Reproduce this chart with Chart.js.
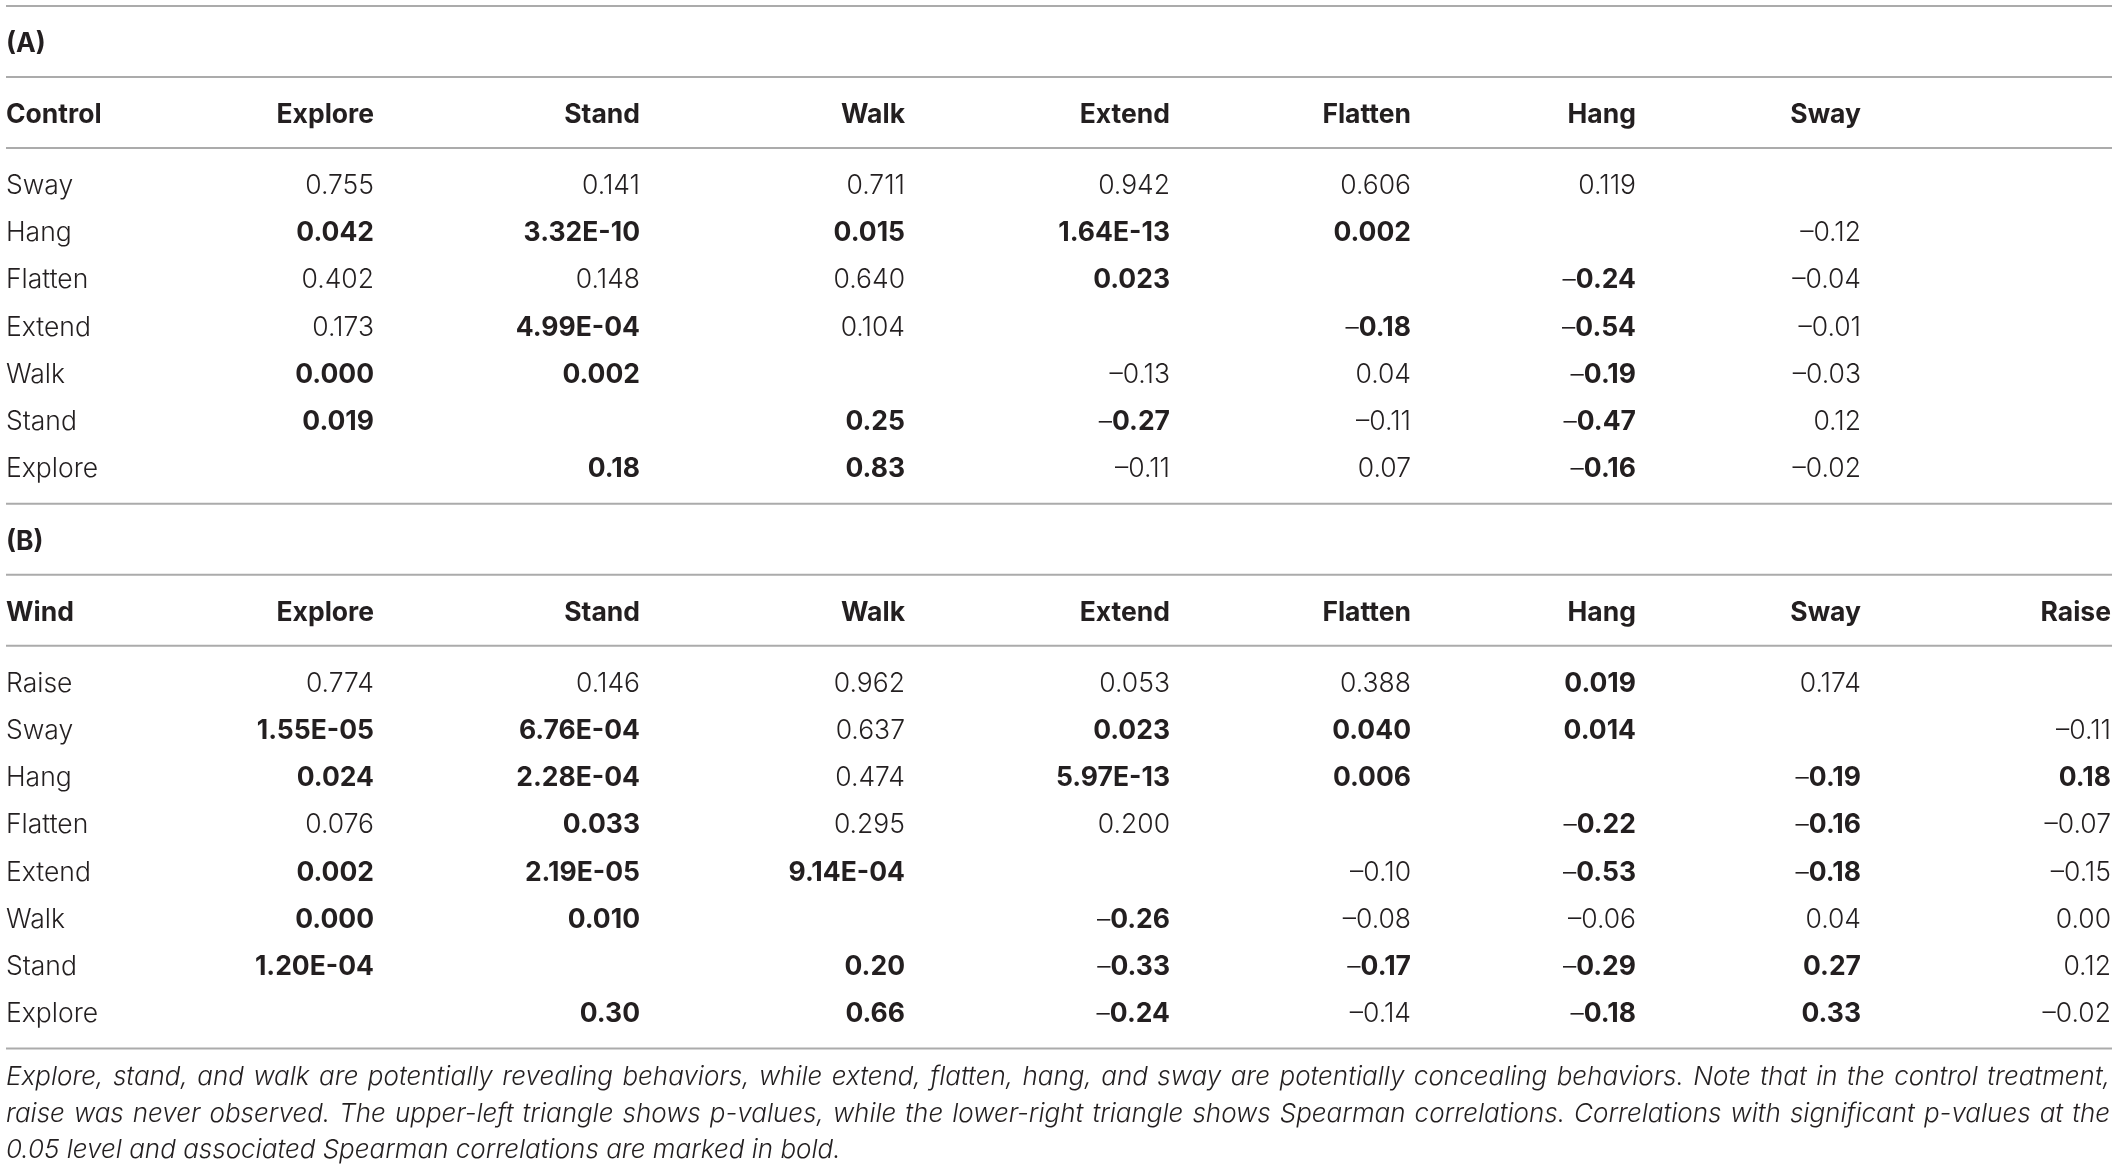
<!DOCTYPE html>
<html><head><meta charset="utf-8">
<script src="https://cdn.jsdelivr.net/npm/chart.js@4.4.1/dist/chart.umd.min.js"></script>
<style>html,body{margin:0;padding:0;background:#fff;overflow:hidden}canvas{display:block}</style>
</head><body><canvas id="c" width="2118" height="1171"></canvas>
<script>
// ---------------- DATA ----------------
const panelA = '(A)';
const cornerA = 'Control';
const columnsA = ['Explore','Stand','Walk','Extend','Flatten','Hang','Sway'];
const rowsA = ['Sway','Hang','Flatten','Extend','Walk','Stand','Explore'];
const valuesA = [
  ['0.755','0.141','0.711','0.942','0.606','0.119',''],
  ['0.042','3.32E-10','0.015','1.64E-13','0.002','','\u20130.12'],
  ['0.402','0.148','0.640','0.023','','\u20130.24','\u20130.04'],
  ['0.173','4.99E-04','0.104','','\u20130.18','\u20130.54','\u20130.01'],
  ['0.000','0.002','','\u20130.13','0.04','\u20130.19','\u20130.03'],
  ['0.019','','0.25','\u20130.27','\u20130.11','\u20130.47','0.12'],
  ['','0.18','0.83','\u20130.11','0.07','\u20130.16','\u20130.02']
];
const boldA = [
  [0,0,0,0,0,0,0],
  [1,1,1,1,1,0,0],
  [0,0,0,1,0,1,0],
  [0,1,0,0,1,1,0],
  [1,1,0,0,0,1,0],
  [1,0,1,1,0,1,0],
  [0,1,1,0,0,1,0]
];
const panelB = '(B)';
const cornerB = 'Wind';
const columnsB = ['Explore','Stand','Walk','Extend','Flatten','Hang','Sway','Raise'];
const rowsB = ['Raise','Sway','Hang','Flatten','Extend','Walk','Stand','Explore'];
const valuesB = [
  ['0.774','0.146','0.962','0.053','0.388','0.019','0.174',''],
  ['1.55E-05','6.76E-04','0.637','0.023','0.040','0.014','','\u20130.11'],
  ['0.024','2.28E-04','0.474','5.97E-13','0.006','','\u20130.19','0.18'],
  ['0.076','0.033','0.295','0.200','','\u20130.22','\u20130.16','\u20130.07'],
  ['0.002','2.19E-05','9.14E-04','','\u20130.10','\u20130.53','\u20130.18','\u20130.15'],
  ['0.000','0.010','','\u20130.26','\u20130.08','\u20130.06','0.04','0.00'],
  ['1.20E-04','','0.20','\u20130.33','\u20130.17','\u20130.29','0.27','0.12'],
  ['','0.30','0.66','\u20130.24','\u20130.14','\u20130.18','0.33','\u20130.02']
];
const boldB = [
  [0,0,0,0,0,1,0,0],
  [1,1,0,1,1,1,0,0],
  [1,1,0,1,1,0,1,1],
  [0,1,0,0,0,1,1,0],
  [1,1,1,0,0,1,1,0],
  [1,1,0,1,0,0,0,0],
  [1,0,1,1,1,1,1,0],
  [0,1,1,1,0,1,1,0]
];
const captionLines = [
  'Explore, stand, and walk are potentially revealing behaviors, while extend, flatten, hang, and sway are potentially concealing behaviors. Note that in the control treatment,',
  'raise was never observed. The upper-left triangle shows p-values, while the lower-right triangle shows Spearman correlations. Correlations with significant p-values at the',
  '0.05 level and associated Spearman correlations are marked in bold.'
];

// ---------------- LAYOUT / STYLE ----------------
const W = 2118, H = 1171;
const TABLE_LEFT = 6, TABLE_RIGHT = 2112, TEXT_RIGHT = 2110;
const colRight = [374, 640, 905, 1170, 1411, 1636, 1861, 2111];
const SECTION_TOP_A = 6;
const LABEL_OFF = 46, BAND = 71, ROW_PITCH = 47.2, ROW_TAIL = 26.5, CAP_PITCH = 36.5;
const FONT = 'Inter';
const SIZE = 26.5, CAP_SIZE = 26;
const INK = '#231f20', RULE = '#ababab';

function sectionLayout(top, nRows){
  const labelY = top + LABEL_OFF;
  const rule2 = top + BAND;
  const headY = rule2 + LABEL_OFF;
  const rule3 = rule2 + BAND;
  const firstRow = rule3 + LABEL_OFF;
  const rowY = [];
  for(let i=0;i<nRows;i++) rowY.push(firstRow + i*ROW_PITCH);
  const bottom = rowY[nRows-1] + ROW_TAIL;
  return {top, labelY, rule2, headY, rule3, rowY, bottom};
}
const LA = sectionLayout(SECTION_TOP_A, rowsA.length);
const LB = sectionLayout(LA.bottom, rowsB.length);

const cellPoints = [];
const rules = [];
function addSection(L, panel, corner, cols, rows, vals, bold){
  rules.push(L.top, L.rule2, L.rule3);
  cellPoints.push({x:TABLE_LEFT, y:L.labelY, text:panel, bold:true, align:'left'});
  cellPoints.push({x:TABLE_LEFT, y:L.headY, text:corner, bold:true, align:'left'});
  cols.forEach((c,j)=>cellPoints.push({x:colRight[j], y:L.headY, text:c, bold:true, align:'right'}));
  rows.forEach((r,i)=>{
    cellPoints.push({x:TABLE_LEFT, y:L.rowY[i], text:r, bold:false, align:'left'});
    vals[i].forEach((v,j)=>{
      if(v!=='') cellPoints.push({x:colRight[j], y:L.rowY[i], text:v, bold:!!bold[i][j], align:'right'});
    });
  });
}
addSection(LA, panelA, cornerA, columnsA, rowsA, valuesA, boldA);
addSection(LB, panelB, cornerB, columnsB, rowsB, valuesB, boldB);
rules.push(LB.bottom);

const capPoints = captionLines.map((t,i)=>({x:TABLE_LEFT, y:LB.bottom + CAP_PITCH*(i+1), text:t, justify: i < captionLines.length-1}));

const datasets = rules.map(y=>({
  type:'scatter', data:[{x:TABLE_LEFT,y},{x:TABLE_RIGHT,y}], showLine:true,
  borderColor:RULE, borderWidth:2, pointRadius:0, pointHoverRadius:0
}));
datasets.push({type:'scatter', data:cellPoints, pointRadius:0, pointHoverRadius:0, kind:'cells'});
datasets.push({type:'scatter', data:capPoints, pointRadius:0, pointHoverRadius:0, kind:'caption'});

const fLight = `300 ${SIZE}px ${FONT}`;
const fBold = `700 ${SIZE}px ${FONT}`;
const fCap = `italic 300 ${CAP_SIZE}px ${FONT}`;

function drawCell(ctx, x, y, d){
  ctx.fillStyle = INK;
  ctx.textBaseline = 'alphabetic';
  if(d.align==='left'){
    ctx.font = d.bold ? fBold : fLight;
    ctx.textAlign = 'left';
    ctx.fillText(d.text, x, y);
    return;
  }
  ctx.textAlign = 'right';
  if(d.bold && d.text.charAt(0)==='\u2013'){
    const num = d.text.slice(1);
    ctx.font = fBold;
    const w = ctx.measureText(num).width;
    ctx.fillText(num, x, y);
    ctx.font = fLight;
    ctx.fillText('\u2013', x - w, y);
  } else {
    ctx.font = d.bold ? fBold : fLight;
    ctx.fillText(d.text, x, y);
  }
}

function drawCaption(ctx, x, y, xr, d){
  ctx.fillStyle = INK;
  ctx.font = fCap;
  ctx.textBaseline = 'alphabetic';
  ctx.textAlign = 'left';
  if(!d.justify){ ctx.fillText(d.text, x, y); return; }
  const words = d.text.split(' ');
  const ws = words.map(w=>ctx.measureText(w).width);
  const total = ws.reduce((a,b)=>a+b,0);
  const gap = (xr - x - total)/(words.length-1);
  let cx = x;
  words.forEach((w,i)=>{ ctx.fillText(w, cx, y); cx += ws[i] + gap; });
}

const tablePlugin = {
  id:'tableText',
  afterDatasetsDraw(chart){
    const ctx = chart.ctx;
    ctx.save();
    chart.data.datasets.forEach((ds,i)=>{
      if(!ds.kind) return;
      const meta = chart.getDatasetMeta(i);
      meta.data.forEach((el,j)=>{
        const d = ds.data[j];
        if(ds.kind==='cells') drawCell(ctx, el.x, el.y, d);
        else drawCaption(ctx, el.x, el.y, chart.scales.x.getPixelForValue(TEXT_RIGHT), d);
      });
    });
    ctx.restore();
  }
};
const bgPlugin = {
  id:'bg',
  beforeDraw(chart){ const c=chart.ctx; c.save(); c.fillStyle='#fff'; c.fillRect(0,0,chart.width,chart.height); c.restore(); }
};

new Chart(document.getElementById('c'), {
  type:'scatter',
  data:{datasets},
  options:{
    responsive:false, animation:false, devicePixelRatio:1,
    layout:{padding:0},
    events:[],
    plugins:{legend:{display:false}, tooltip:{enabled:false}},
    scales:{
      x:{type:'linear', min:0, max:W, display:false},
      y:{type:'linear', min:0, max:H, reverse:true, display:false}
    }
  },
  plugins:[bgPlugin, tablePlugin]
});
</script>
</body></html>
